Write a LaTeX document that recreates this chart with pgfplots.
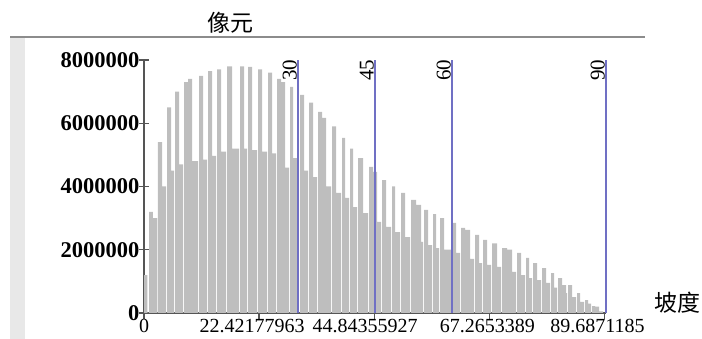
\documentclass[border=0pt]{standalone}
\usepackage{fontspec}
\setmainfont{Liberation Serif}
\newfontfamily\cjk{Noto Sans CJK SC}
\usepackage{pgfplots}
\pgfplotsset{compat=1.18}
\usepackage{pgfplotstable}
\definecolor{bargray}{RGB}{190,190,190}
\definecolor{lineblue}{RGB}{112,112,196}
\definecolor{axgray}{RGB}{85,85,85}
% slope (degrees) bin start, pixel count in millions (0 = gap)
\pgfplotstableread{
x y
0 1.2
0.68 0
0.974 3.2
1.753 3.0
2.533 0
2.727 5.4
3.507 4.0
4.286 0
4.481 6.5
5.260 4.5
5.845 0
6.039 7.0
6.819 4.7
7.598 0
7.793 7.3
8.572 7.4
9.351 4.8
10.520 0
10.715 7.5
11.494 4.85
12.274 0
12.468 7.65
13.248 4.97
14.027 0
14.222 7.7
15.001 5.1
15.975 0
16.170 7.8
17.144 5.2
18.508 0
18.703 7.8
19.482 5.2
20.066 0
20.261 7.78
21.040 5.15
22.015 0
22.209 7.7
22.989 5.1
23.963 0
24.158 7.6
24.937 5.05
25.716 0
25.911 7.4
26.690 7.3
27.469 4.6
28.249 0
28.443 7.15
29.028 4.9
29.807 0
30.392 6.9
31.171 4.5
31.950 0
32.145 6.65
32.924 4.3
33.703 0
33.898 6.36
34.677 6.17
35.457 4.0
36.431 0
36.626 5.9
37.405 3.8
38.379 0
38.574 5.54
39.158 3.64
39.938 0
40.132 5.2
40.717 3.35
41.496 0
41.691 4.9
42.665 3.16
43.639 0
43.834 4.62
44.613 4.46
45.392 2.88
46.172 0
46.366 4.2
47.146 2.72
48.120 0
48.315 4.0
48.899 2.56
49.873 0
50.068 3.8
50.847 2.4
51.822 0
52.016 3.58
52.991 3.42
53.964 2.25
54.354 0
54.549 3.26
55.328 2.15
56.108 0
56.302 3.13
56.887 2.05
57.471 0
57.666 3.0
58.445 2.0
59.809 0
60.004 2.85
60.783 1.9
61.562 0
61.757 2.69
62.536 2.63
63.510 1.71
64.290 0
64.484 2.47
65.264 1.58
65.848 0
66.043 2.31
66.823 1.52
67.601 0
67.796 2.2
68.771 1.46
69.550 0
69.745 2.05
70.719 2.0
71.693 1.3
72.472 0
72.667 1.9
73.446 1.2
74.225 0
74.420 1.74
75.005 1.1
75.589 0
75.784 1.58
76.564 1.04
77.343 0
77.537 1.42
78.317 0.95
79.096 0
79.291 1.26
79.875 0.8
80.460 0
80.655 1.1
81.434 0.88
82.213 0.63
82.408 0
82.603 0.88
83.382 0.5
84.161 0
84.356 0.63
84.940 0.35
85.720 0
85.914 0.41
86.499 0.3
87.083 0
87.278 0.22
87.863 0.2
88.642 0.05
89.422 0
}\slopetable
\begin{document}
\begin{tikzpicture}[x=1pt,y=1pt]
\useasboundingbox (0,0) rectangle (702,339);
\fill[black!9] (10,0) rectangle (25,302);
\draw[black!45, line width=1.6pt] (10,302) -- (645,302);
\node[font=\cjk\fontsize{23}{26}\selectfont, inner sep=0pt] at (230,316) {像元};
\node[font=\cjk\fontsize{23}{26}\selectfont, inner sep=0pt] at (677,36) {坡度};
\begin{axis}[
  at={(144pt,26pt)}, anchor=south west,
  scale only axis, width=462pt, height=253pt,
  xmin=0, xmax=90, ymin=0, ymax=8,
  separate axis lines,
  axis x line*=bottom, axis y line*=left,
  axis line style={draw=axgray, line width=1.3pt, -},
  /pgf/number format/assume math mode=true,
  xtick={0,22.42177963,44.84355927,67.2653389,89.6871185},
  xticklabels={0,22.42177963\kern14pt,44.84355927\kern18pt,67.2653389\kern4pt,89.6871185\kern14pt},
  ytick={0,2,4,6,8},
  yticklabels={0,2000000,4000000,6000000,8000000},
  x tick label style={font=\fontsize{20}{23}\selectfont, yshift=2pt},
  y tick label style={font=\bfseries\fontsize{22.5}{25}\selectfont, xshift=1pt},
  xtick style={draw=axgray, line width=1.2pt},
  ytick style={draw=axgray, line width=1.2pt},
  x tick style={/pgfplots/major tick length=6pt},
  y tick style={/pgfplots/major tick length=10pt},
  xtick align=outside, ytick align=center,
  clip=false,
]
\addplot[ybar interval, fill=bargray, draw=none] table[x=x,y=y]{\slopetable};
\addplot[lineblue, line width=1.8pt] coordinates {(30,0) (30,8)};
\addplot[lineblue, line width=1.8pt] coordinates {(45,0) (45,8)};
\addplot[lineblue, line width=1.8pt] coordinates {(60,0) (60,8)};
\addplot[lineblue, line width=1.8pt] coordinates {(90,0) (90,8)};
\node[rotate=90, anchor=south east, inner sep=1pt, font=\fontsize{21}{23}\selectfont] at (axis cs:30,8.05) {30};
\node[rotate=90, anchor=south east, inner sep=1pt, font=\fontsize{21}{23}\selectfont] at (axis cs:45,8.05) {45};
\node[rotate=90, anchor=south east, inner sep=1pt, font=\fontsize{21}{23}\selectfont] at (axis cs:60,8.05) {60};
\node[rotate=90, anchor=south east, inner sep=1pt, font=\fontsize{21}{23}\selectfont] at (axis cs:90,8.05) {90};
\end{axis}
\end{tikzpicture}
\end{document}
